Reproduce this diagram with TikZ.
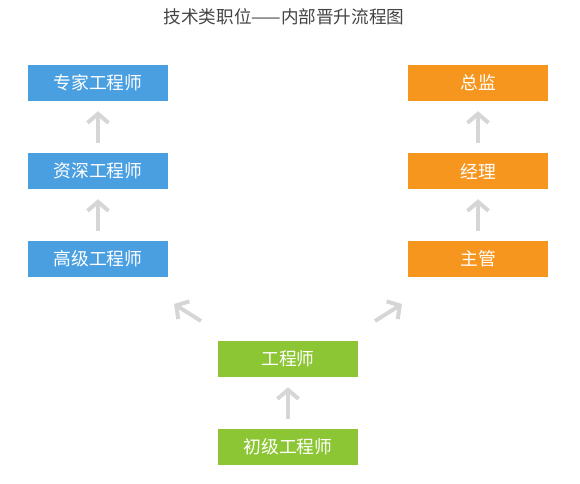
\documentclass[tikz,border=0pt]{standalone}
\usepackage{fontspec}
\setmainfont{Noto Sans CJK SC}
\usetikzlibrary{arrows.meta}
\definecolor{cblue}{HTML}{4A9FE1}
\definecolor{corange}{HTML}{F7961E}
\definecolor{cgreen}{HTML}{8CC634}
\definecolor{cgray}{HTML}{D6D6D6}
\definecolor{ctitle}{HTML}{444444}
\tikzset{
  box/.style={minimum width=140pt, minimum height=36pt, inner sep=0pt, text=white, font=\fontsize{17.8}{17.8}\selectfont},
  bluebox/.style={box, fill=cblue},
  orangebox/.style={box, fill=corange},
  greenbox/.style={box, fill=cgreen},
  upar/.style={draw=cgray, line width=4pt, -{Straight Barb[length=9pt,width=21pt,line width=4pt]}, shorten >=10pt, shorten <=10pt},
  diar/.style={draw=cgray, line width=4pt, -{Straight Barb[length=9pt,width=21pt,line width=4pt]}}
}
\begin{document}
\begin{tikzpicture}[x=1pt,y=-1pt]
\useasboundingbox (0,0) rectangle (580,483);
\node[font=\fontsize{17.6}{17.6}\selectfont, text=ctitle] (title) at (284,16.5) {技术类职位——内部晋升流程图};
\node[bluebox] (zj) at (98,83) {专家工程师};
\node[bluebox] (zs) at (98,171) {资深工程师};
\node[bluebox] (gj) at (98,259) {高级工程师};
\node[orangebox] (zongjian) at (478,83) {总监};
\node[orangebox] (jingli) at (478,171) {经理};
\node[orangebox] (zhuguan) at (478,259) {主管};
\node[greenbox] (gcs) at (288,359) {工程师};
\node[greenbox] (cj) at (288,447) {初级工程师};
\draw[upar] (zs) -- (zj);
\draw[upar] (gj) -- (zs);
\draw[upar] (jingli) -- (zongjian);
\draw[upar] (zhuguan) -- (jingli);
\draw[upar] (cj) -- (gcs);
\coordinate (lt) at (201,321);
\coordinate (lh) at (174,304);
\coordinate (rt) at (375,321);
\coordinate (rh) at (402,304);
\draw[diar] (lt) -- (lh);
\draw[diar] (rt) -- (rh);
\end{tikzpicture}
\end{document}
